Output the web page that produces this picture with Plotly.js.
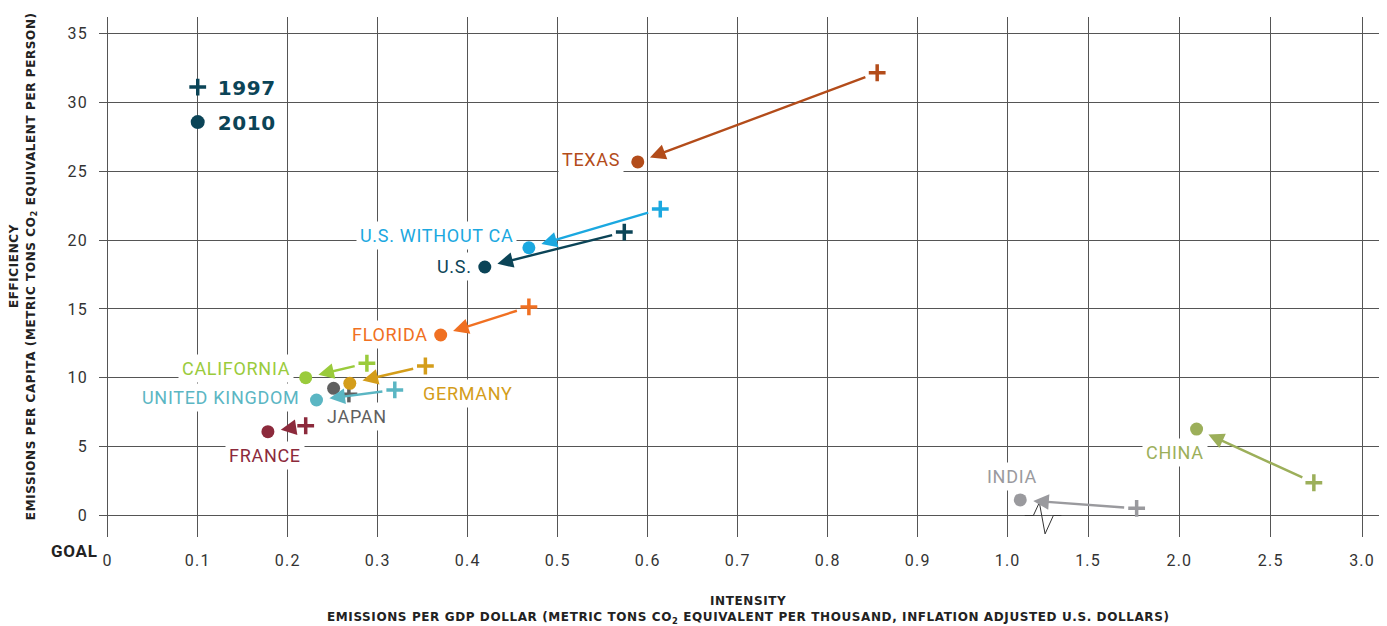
<!DOCTYPE html>
<html><head><meta charset="utf-8">
<script src="https://cdn.plot.ly/plotly-3.0.1.min.js"></script>
<style>
html,body{margin:0;padding:0;background:#fff;}
#chart{width:1387px;height:626px;}
svg text[style*="Roboto;"]{letter-spacing:0.7px;}
svg text[style*="Roboto, sans-serif"]{letter-spacing:1.2px;}
svg text[style*="DejaVu"]{letter-spacing:0.6px;}
</style></head><body><div id="chart"></div>
<script>
// ---------- data ----------
const countries = ['Texas','U.S. without CA','U.S.','Florida','California','Germany','Japan','United Kingdom','France','India','China'];
const labels = ['TEXAS','U.S. WITHOUT CA','U.S.','FLORIDA','CALIFORNIA','GERMANY','JAPAN','UNITED KINGDOM','FRANCE','INDIA','CHINA'];
const intensity1997 = [0.855, 0.614, 0.574, 0.468, 0.288, 0.353, 0.268, 0.319, 0.220, 1.766, 2.736];
const perCapita1997 = [32.16, 22.26, 20.59, 15.15, 11.06, 10.86, 8.80, 9.12, 6.52, 0.52, 2.38];
const intensity2010 = [0.589, 0.468, 0.419, 0.370, 0.220, 0.269, 0.251, 0.232, 0.178, 1.014, 2.094];
const perCapita2010 = [25.68, 19.45, 18.05, 13.11, 10.01, 9.60, 9.24, 8.39, 6.09, 1.13, 6.28];
const xTickVals = [0, 0.1, 0.2, 0.3, 0.4, 0.5, 0.6, 0.7, 0.8, 0.9, 1.0, 1.5, 2.0, 2.5, 3.0];
const xTickText = ['0','0.1','0.2','0.3','0.4','0.5','0.6','0.7','0.8','0.9','1.0','1.5','2.0','2.5','3.0'];
const yTickVals = [0, 5, 10, 15, 20, 25, 30, 35];
const yTickText = ['0','5','10','15','20','25','30','35'];
const legendYears = ['1997', '2010'];

// ---------- styles ----------
const colors = ['#b34c1a','#1ba8e0','#0b4457','#f07022','#9acb3c','#d49d1a','#5f5f5f','#5bb6c3','#8c2a3c','#9a9a9e','#9caf5a'];
const showArrow = [true,true,true,true,true,true,false,true,true,true,true];
// label placement: [xanchor, xshift px, yshift px]
const labelPlace = [
  ['right',-14,2.3],['right',-11.5,12.4],['right',-8.5,1],['right',-9,1],
  ['right',-11.8,9],['left',69,-10],['center',23,-28.4],['right',-13.9,2],
  ['center',-3,-23.6],['center',-8.4,23],['center',-21.2,-23.2]
];
const legendColor = '#0b4457';
const gridColor = '#555';

// broken x axis: right segment (>=1.5) compressed
const T0 = 1.0893, K = 0.203;
function tx(v){ return v <= 1.2 ? v : T0 + (v - 1.5) * K; }
const X_MIN = -0.00967, X_MAX = 1.4126, Y_MIN = -1.562, Y_MAX = 36.21;
const PLOT_W = 1280, PLOT_H = 520;
const pxX = PLOT_W / (X_MAX - X_MIN), pxY = PLOT_H / (Y_MAX - Y_MIN);
const gapLo = tx(1.019), gapHi = tx(1.354);

const labelFamily = 'Roboto';
const tickFamily = 'Roboto, sans-serif';
const traces = [
  {type:'scatter', mode:'markers', x:[null], y:[null], name:legendYears[0], legendgroup:'a',
   marker:{symbol:'cross-thin', size:12, color:legendColor, line:{color:legendColor, width:3.5}}},
  {type:'scatter', mode:'markers', x:[null], y:[null], name:legendYears[1], legendgroup:'b',
   marker:{symbol:'circle', size:14, color:legendColor, line:{width:0}}},
  {type:'scatter', mode:'markers', x:intensity1997.map(tx), y:perCapita1997, text:countries, showlegend:false,
   marker:{symbol:'cross-thin', size:12, color:colors, line:{color:colors, width:3.5}}, cliponaxis:false},
  {type:'scatter', mode:'markers', x:intensity2010.map(tx), y:perCapita2010, text:countries, showlegend:false,
   marker:{symbol:'circle', size:13, color:colors, line:{width:0}}, cliponaxis:false}
];

const annotations = [];
labels.forEach((lab,i)=>{
  const p = labelPlace[i];
  annotations.push({x:tx(intensity2010[i]), y:perCapita2010[i], xref:'x', yref:'y', text:lab, showarrow:false,
    xanchor:p[0], yanchor:'middle', xshift:p[1], yshift:p[2], bgcolor:'#fff', borderpad:3,
    font:{family:labelFamily, size:18, color:colors[i]}});
});
labels.forEach((lab,i)=>{
  if(!showArrow[i]) return;
  annotations.push({x:tx(intensity2010[i]), y:perCapita2010[i], ax:tx(intensity1997[i]), ay:perCapita1997[i],
    xref:'x', yref:'y', axref:'x', ayref:'y', text:'', showarrow:true, arrowhead:2, arrowsize:1.3,
    arrowwidth:2.4, arrowcolor:colors[i], standoff:13, startstandoff:11});
});
const titleFont = {family:'DejaVu Sans', size:12, weight:'bold', color:'#222'};
annotations.push(
  {xref:'paper', yref:'paper', x:0.5074, y:-0.123, text:'INTENSITY', showarrow:false, font:titleFont, xanchor:'center', yanchor:'middle'},
  {xref:'paper', yref:'paper', x:0.5074, y:-0.156, text:'EMISSIONS PER GDP DOLLAR (METRIC TONS CO<sub>2</sub> EQUIVALENT PER THOUSAND, INFLATION ADJUSTED U.S. DOLLARS)', showarrow:false, font:titleFont, xanchor:'center', yanchor:'middle'},
  {xref:'paper', yref:'paper', x:-0.0664, y:0.521, text:'EFFICIENCY', textangle:-90, showarrow:false, font:titleFont, xanchor:'center', yanchor:'middle'},
  {xref:'paper', yref:'paper', x:-0.0523, y:0.521, text:'EMISSIONS PER CAPITA (METRIC TONS CO<sub>2</sub> EQUIVALENT PER PERSON)', textangle:-90, showarrow:false, font:titleFont, xanchor:'center', yanchor:'middle'},
  {xref:'paper', yref:'paper', x:-0.0193, y:-0.027, text:'GOAL', showarrow:false, font:{family:labelFamily, size:17, weight:'bold', color:'#222'}, xanchor:'center', yanchor:'middle'}
);

// zigzag break on the baseline (pixel offsets converted to data units)
function zx(px){ return gapLo + px / pxX; }
function zy(px){ return px / pxY; }
const zig = `M${gapLo},0 L${zx(8.6)},0 L${zx(14.6)},${zy(13)} L${zx(20.3)},${zy(-18.4)} L${zx(28.6)},0 L${gapHi},0`;

const axisFont = {family:tickFamily, size:16, color:'#333'};
const layout = {
  width:1387, height:626,
  margin:{l:99, r:8, t:17, b:89, pad:0},
  paper_bgcolor:'#fff', plot_bgcolor:'#fff',
  hovermode:false, showlegend:true,
  legend:{x:0.0615, y:0.9027, xanchor:'left', yanchor:'top', bgcolor:'rgba(0,0,0,0)', borderwidth:0,
    font:{family:'DejaVu Sans', size:20, weight:'bold', color:legendColor}, tracegroupgap:6},
  xaxis:{range:[X_MIN, X_MAX], tickmode:'array', tickvals:xTickVals.map(tx), ticktext:xTickText,
    showgrid:true, gridcolor:gridColor, gridwidth:1, zeroline:false, showline:false, ticks:'',
    tickfont:axisFont, ticklabelstandoff:12, fixedrange:true},
  yaxis:{range:[Y_MIN, Y_MAX], tickmode:'array', tickvals:yTickVals, ticktext:yTickText,
    showgrid:true, gridcolor:gridColor, gridwidth:1, zeroline:false, showline:false, ticks:'',
    tickfont:axisFont, ticklabelstandoff:10, fixedrange:true},
  shapes:[
    {type:'rect', xref:'paper', yref:'paper', x0:0.0508, x1:0.1656, y0:0.7346, y1:0.9327, fillcolor:'#fff', line:{width:0}, layer:'between'},
    {type:'rect', xref:'x', yref:'paper', x0:gapLo, x1:gapHi, y0:0, y1:1, fillcolor:'#fff', line:{width:0}, layer:'between'},
    {type:'path', xref:'x', yref:'y', path:zig, line:{color:'#333', width:1}, layer:'between'}
  ],
  annotations:annotations
};
Plotly.newPlot('chart', traces, layout, {displayModeBar:false, staticPlot:true});
</script></body></html>
